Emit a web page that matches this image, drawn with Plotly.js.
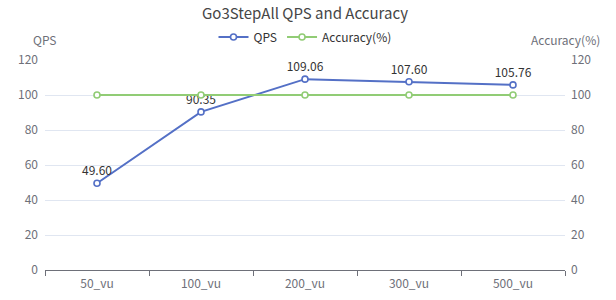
<!DOCTYPE html>
<html><head><meta charset="utf-8">
<script src="https://cdn.plot.ly/plotly-3.0.1.min.js"></script>
<style>html,body{margin:0;padding:0;background:#fff}#c{width:616px;height:300px}</style>
</head><body><div id="c"></div>
<script>
const categories = ["50_vu","100_vu","200_vu","300_vu","500_vu"];
const qps = [49.60, 90.35, 109.06, 107.60, 105.76];
const accuracy = [100, 100, 100, 100, 100];
const yTicks = [0,20,40,60,80,100,120];

const FONT = "'Noto Sans CJK SC', 'Noto Sans', sans-serif";
const axisCommon = {
  range:[0,120], tickvals:yTicks, ticktext:yTicks.map(String),
  showline:false, zeroline:false, ticks:"", ticklen:0,
  tickfont:{size:12,color:"#6E7079",family:FONT}, fixedrange:true, automargin:false
};
const data = [
  {x:categories, y:qps, name:"QPS", type:"scatter", mode:"lines+markers+text",
   line:{color:"#5470C6",width:2}, marker:{symbol:"circle",size:6,color:"#fff",line:{color:"#5470C6",width:1.6}},
   text:qps.map(v=>v.toFixed(2)), textposition:"top center", textfont:{size:12,color:"#333",family:FONT},
   cliponaxis:false, yaxis:"y"},
  {x:categories, y:accuracy, name:"Accuracy(%)", type:"scatter", mode:"lines+markers",
   line:{color:"#91CC75",width:2}, marker:{symbol:"circle",size:6,color:"#fff",line:{color:"#91CC75",width:1.6}},
   cliponaxis:false, yaxis:"y2"}
];
const layout = {
  width:616, height:300, margin:{l:45,r:51,t:60,b:30,autoexpand:false},
  paper_bgcolor:"#fff", plot_bgcolor:"#fff",
  font:{family:FONT,color:"#464646"},
  title:{text:"Go3StepAll QPS and Accuracy", x:0.5, xanchor:"center", xref:"paper",
         yref:"container", y:1-14/300, yanchor:"middle",
         font:{size:15,color:"#464646",family:FONT}},
  showlegend:true,
  legend:{orientation:"h", x:0.5, xanchor:"center", yref:"container", y:1-37/300, yanchor:"middle",
          font:{size:12,color:"#333",family:FONT}, itemwidth:30, traceorder:"normal"},
  xaxis:{type:"category", range:[-0.5,4.5], tickson:"boundaries", ticks:"outside", ticklen:5,
         tickcolor:"#6E7079", showline:true, linecolor:"#6E7079", linewidth:1, showgrid:false,
         ticklabelstandoff:3,
         tickfont:{size:12,color:"#6E7079",family:FONT}, fixedrange:true, automargin:false},
  yaxis:Object.assign({}, axisCommon, {side:"left", showgrid:true, gridcolor:"#E0E6F1", gridwidth:1, ticklabelstandoff:6}),
  yaxis2:Object.assign({}, axisCommon, {side:"right", overlaying:"y", showgrid:false, ticklabelstandoff:5}),
  annotations:[
    {text:"QPS", xref:"paper", yref:"paper", x:0, y:1+20/210, xanchor:"center", yanchor:"middle",
     showarrow:false, font:{size:12,color:"#6E7079",family:FONT}},
    {text:"Accuracy(%)", xref:"paper", yref:"paper", x:1, y:1+20/210, xanchor:"center", yanchor:"middle",
     showarrow:false, font:{size:12,color:"#6E7079",family:FONT}}
  ]
};
Plotly.newPlot("c", data, layout, {staticPlot:true, displayModeBar:false});
</script></body></html>
